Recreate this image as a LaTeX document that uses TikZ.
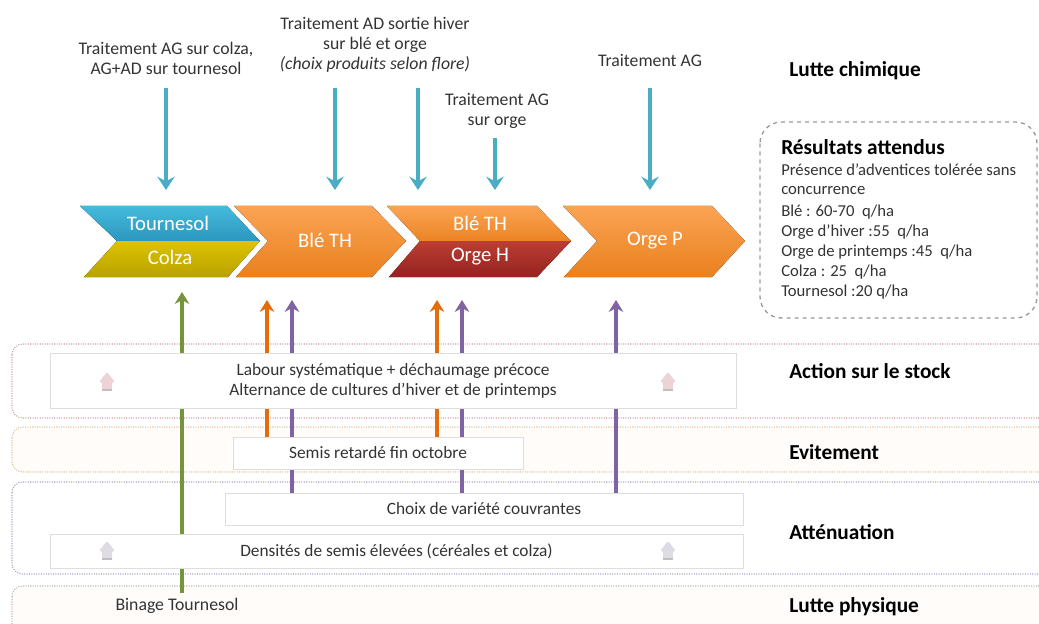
\documentclass[tikz,border=0pt]{standalone}
\usepackage{fontspec}
\setmainfont{Carlito}
\usetikzlibrary{arrows.meta}
\definecolor{txt}{HTML}{333333}
\definecolor{tealarr}{HTML}{4BACC6}
\definecolor{tealtop}{HTML}{45BADC}
\definecolor{tealbot}{HTML}{2B97BE}
\definecolor{goldtop}{HTML}{DCC400}
\definecolor{goldbot}{HTML}{B9A100}
\definecolor{orgtop}{HTML}{FBA454}
\definecolor{orgbot}{HTML}{E9801E}
\definecolor{redtop}{HTML}{BC3D33}
\definecolor{redbot}{HTML}{952320}
\definecolor{greenarr}{HTML}{77933C}
\definecolor{orangearr}{HTML}{E46C0A}
\definecolor{purplearr}{HTML}{8064A2}
\definecolor{stockln}{HTML}{C9A3A3}
\definecolor{eviln}{HTML}{E2C29E}
\definecolor{attln}{HTML}{A9A2C2}
\definecolor{physln}{HTML}{B9B9B9}
\definecolor{tagpink}{HTML}{EDD3D7}
\definecolor{taggray}{HTML}{DEDBE5}

\tikzset{uptag/.pic={
  \fill[rounded corners=1pt] (-5,9) -- (-5,1) -- (-8,1) -- (0,-9) -- (8,1) -- (5,1) -- (5,9) -- cycle;
  \fill[black!25] (-5,8) rectangle (5,10);}}

\begin{document}
\begin{tikzpicture}[x=0.75pt,y=-0.75pt,
    lbl/.style={text=txt,align=center,font=\fontsize{13.3}{15}\selectfont},
    res/.style={text=txt,anchor=west,inner sep=0pt,font=\fontsize{12.5}{15}\selectfont},
    head/.style={anchor=west,inner sep=0pt,font=\bfseries\fontsize{16}{19}\selectfont},
    crop/.style={text=white,font=\fontsize{15.5}{18}\selectfont},
    chem/.style={-{Stealth[length=10pt,width=13pt,inset=3.5pt]},line width=3pt,tealarr},
    up/.style={-{Stealth[length=9pt,width=11pt,inset=3pt]},line width=2.4pt},
    band/.style={rounded corners=8pt,densely dotted,line width=0.8pt},
    wbox/.style={draw=black!13,fill=white,line width=0.6pt,text=txt,align=center,
                 inner sep=0pt,font=\fontsize{13}{15}\selectfont}]
  \useasboundingbox (0,0) rectangle (1039,624);
  \clip (0,0) rectangle (1039,624);

  % chemical treatments
  \node[lbl] (agc) at (166,58) {Traitement AG sur colza,\\AG+AD sur tournesol};
  \node[lbl] (adh) at (375,45) {Traitement AD sortie hiver\\sur blé et orge\\\textit{(choix produits selon flore)}};
  \node[lbl] (ago) at (497,111) {Traitement AG\\sur orge};
  \node[lbl] (agp) at (650,60) {Traitement AG};
  \coordinate (c1a) at (166,88);  \coordinate (c1b) at (166,190);
  \coordinate (c2a) at (335,88);  \coordinate (c2b) at (335,190);
  \coordinate (c3a) at (418,88);  \coordinate (c3b) at (418,190);
  \coordinate (c4a) at (495,138); \coordinate (c4b) at (495,190);
  \coordinate (c5a) at (650,88);  \coordinate (c5b) at (650,190);
  \draw[chem] (c1a) -- (c1b); \draw[chem] (c2a) -- (c2b); \draw[chem] (c3a) -- (c3b);
  \draw[chem] (c4a) -- (c4b); \draw[chem] (c5a) -- (c5b);

  % rotation
  \fill[top color=tealtop,bottom color=tealbot] (80,206) -- (227,206) -- (260,241) -- (117,241) -- cycle;
  \fill[top color=goldtop,bottom color=goldbot] (117,241) -- (260,241) -- (228,277) -- (84,277) -- cycle;
  \fill[top color=orgtop,bottom color=orgbot] (234,206) -- (372,206) -- (406,241) -- (372,277) -- (236,277) -- (268,241) -- cycle;
  \fill[top color=orgtop,bottom color=orgbot!90!orgtop] (387,206) -- (537,206) -- (571,241) -- (420,241) -- cycle;
  \fill[top color=redtop,bottom color=redbot] (420,241) -- (571,241) -- (537,277) -- (389,277) -- cycle;
  \fill[top color=orgtop,bottom color=orgbot] (563,206) -- (712,206) -- (745,241) -- (712,277) -- (564,277) -- (597,241) -- cycle;
  \node[crop] (tour) at (168,223) {Tournesol};
  \node[crop] (colza) at (170,257) {Colza};
  \node[crop] (ble1) at (325,240) {Blé TH};
  \node[crop] (ble2) at (480,223) {Blé TH};
  \node[crop] (orgh) at (480,257) {Orge H};
  \node[crop] (orgp) at (655,241) {Orge P};

  % expected results
  \draw[dashed,draw=black!40,line width=1pt,rounded corners=16pt] (760,122) rectangle (1037,318);
  \node[res,font=\bfseries\fontsize{16}{19}\selectfont,text=black] (rtit) at (781,147) {Résultats attendus};
  \node[res] (r1) at (781,170) {Présence d’adventices tolérée sans};
  \node[res] (r2) at (781,191) {concurrence};
  \node[res] (r3) at (781,212) {Blé : 60-70~ q/ha};
  \node[res] (r4) at (781,232) {Orge d’hiver :55~ q/ha};
  \node[res] (r5) at (781,252) {Orge de printemps :45~ q/ha};
  \node[res] (r6) at (781,272) {Colza : 25~ q/ha};
  \node[res] (r7) at (781,292) {Tournesol :20 q/ha};

  % lanes
  \draw[band,draw=stockln,fill=white] (12,344) rectangle (1070,418);
  \draw[band,draw=eviln,fill=orange!2] (12,427) rectangle (1070,472);
  \draw[band,draw=attln,fill=white] (12,482) rectangle (1070,574);
  \draw[band,draw=physln,fill=orange!2] (12,586) rectangle (1070,660);
  \node[head] (lch) at (789,71) {Lutte chimique};
  \node[head] (ast) at (789,371) {Action sur le stock};
  \node[head] (evi) at (789,452) {Evitement};
  \node[head] (att) at (789,532) {Atténuation};
  \node[head] (lph) at (789,607) {Lutte physique};

  % levers
  \coordinate (g1a) at (182,593); \coordinate (g1b) at (182,292);
  \coordinate (o1a) at (267,445); \coordinate (o1b) at (267,300);
  \coordinate (p1a) at (292,500); \coordinate (p1b) at (292,300);
  \coordinate (o2a) at (437,445); \coordinate (o2b) at (437,300);
  \coordinate (p2a) at (462,500); \coordinate (p2b) at (462,300);
  \coordinate (p3a) at (616,500); \coordinate (p3b) at (616,300);
  \draw[up,greenarr] (g1a) -- (g1b);
  \draw[up,orangearr] (o1a) -- (o1b); \draw[up,orangearr] (o2a) -- (o2b);
  \draw[up,purplearr] (p1a) -- (p1b); \draw[up,purplearr] (p2a) -- (p2b);
  \draw[up,purplearr] (p3a) -- (p3b);

  \node[wbox,minimum width=514.5pt,minimum height=41.25pt] (lab) at (393,380.5)
       {Labour systématique + déchaumage précoce\\Alternance de cultures d’hiver et de printemps};
  \node[wbox,minimum width=217.5pt,minimum height=24pt] (sem) at (378,453) {Semis retardé fin octobre};
  \node[wbox,minimum width=388.5pt,minimum height=24pt] (var) at (484,509) {Choix de variété couvrantes};
  \node[wbox,minimum width=519.75pt,minimum height=25.5pt] (dens) at (396.5,551)
       {Densités de semis élevées (céréales et colza)};
  \pic[color=tagpink] at (107,381) {uptag};
  \pic[color=tagpink] at (668,381) {uptag};
  \pic[color=taggray] at (107,550) {uptag};
  \pic[color=taggray] at (668,550) {uptag};
  \node[lbl] (bin) at (177,606) {Binage Tournesol};
\end{tikzpicture}
\end{document}
